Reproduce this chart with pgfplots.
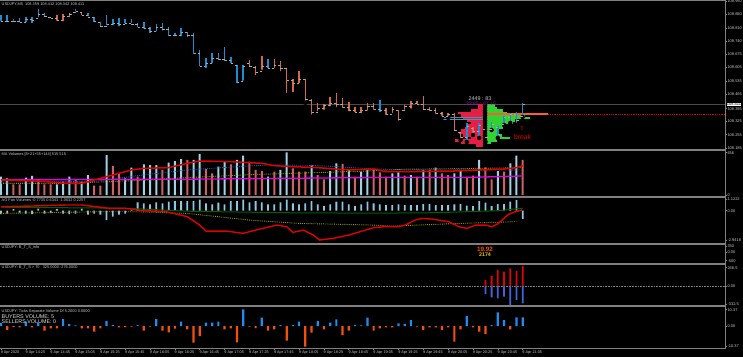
\documentclass[border=0pt]{standalone}
\usepackage{pgfplots}
\usepackage{pgfplotstable}
\pgfplotsset{compat=1.18}
\usepackage{fontspec}
\setmainfont{Liberation Sans}
\newfontfamily\dejavu{DejaVu Sans}
\definecolor{sep}{RGB}{128,128,128}
\definecolor{lbl}{RGB}{200,200,200}
\definecolor{pblue}{RGB}{30,140,210}
\definecolor{porange}{RGB}{215,105,65}
\definecolor{vblue}{RGB}{160,210,228}
\definecolor{vred}{RGB}{205,100,100}
\definecolor{mared}{RGB}{225,0,0}
\definecolor{mamag}{RGB}{230,0,230}
\definecolor{maolive}{RGB}{150,150,0}
\definecolor{madblue}{RGB}{30,90,190}
\definecolor{aobar}{RGB}{140,200,230}
\definecolor{aogreen}{RGB}{0,95,0}
\definecolor{btsred}{RGB}{230,0,0}
\definecolor{btsblue}{RGB}{65,100,220}
\definecolor{tvblue}{RGB}{30,140,240}
\definecolor{tvorange}{RGB}{245,80,10}
\definecolor{prred}{RGB}{230,30,70}
\definecolor{prgreen}{RGB}{50,210,50}
\definecolor{poc}{RGB}{255,90,50}
\definecolor{curline}{RGB}{75,75,75}
\definecolor{tickgray}{RGB}{170,170,170}

\pgfplotstableread{
i lo hi op cl
0 108.836 108.877 108.850 108.845
1 108.834 108.877 108.845 108.842
2 108.837 108.855 108.842 108.846
3 108.829 108.860 108.846 108.840
4 108.830 108.868 108.840 108.856
5 108.825 108.868 108.856 108.848
6 108.855 108.907 108.858 108.880
7 108.860 108.886 108.880 108.872
12 108.886 108.907 108.890 108.898
14 108.860 108.889 108.874 108.866
15 108.830 108.868 108.866 108.845
16 108.808 108.842 108.838 108.818
17 108.813 108.877 108.818 108.830
18 108.813 108.855 108.830 108.835
19 108.808 108.860 108.835 108.828
20 108.825 108.855 108.828 108.832
21 108.825 108.855 108.832 108.830
22 108.803 108.834 108.830 108.815
23 108.796 108.842 108.815 108.808
24 108.773 108.816 108.808 108.790
25 108.782 108.830 108.790 108.812
26 108.785 108.834 108.812 108.800
27 108.756 108.813 108.800 108.772
28 108.756 108.785 108.772 108.770
29 108.756 108.808 108.770 108.785
30 108.751 108.790 108.785 108.770
31 108.664 108.785 108.770 108.680
32 108.600 108.695 108.680 108.610
33 108.591 108.652 108.610 108.625
34 108.617 108.678 108.625 108.650
35 108.634 108.678 108.650 108.645
36 108.626 108.712 108.645 108.640
37 108.617 108.660 108.640 108.625
38 108.513 108.617 108.615 108.525
39 108.525 108.617 108.530 108.610
43 108.591 108.647 108.610 108.600
61 108.362 108.435 108.388 108.380
75 108.217 108.316 108.240 108.300
77 108.238 108.316 108.270 108.305
79 108.279 108.321 108.285 108.310
80 108.238 108.300 108.295 108.255
81 108.305 108.352 108.310 108.345
82 108.316 108.368 108.345 108.360
83 108.305 108.373 108.360 108.330
84 108.347 108.418 108.350 108.411
}\priceB

\pgfplotstableread{
i lo hi op cl
8 108.851 108.868 108.866 108.858
9 108.837 108.877 108.858 108.848
10 108.834 108.882 108.848 108.870
11 108.855 108.886 108.870 108.880
13 108.865 108.894 108.890 108.874
40 108.600 108.643 108.625 108.610
41 108.553 108.612 108.605 108.580
42 108.582 108.664 108.585 108.610
44 108.591 108.647 108.600 108.615
45 108.574 108.638 108.615 108.600
46 108.461 108.600 108.598 108.535
47 108.466 108.543 108.535 108.520
48 108.513 108.586 108.520 108.545
49 108.421 108.543 108.540 108.440
50 108.348 108.439 108.435 108.372
51 108.366 108.421 108.372 108.390
52 108.374 108.413 108.390 108.405
53 108.392 108.449 108.405 108.420
54 108.387 108.470 108.420 108.410
55 108.383 108.447 108.410 108.395
56 108.366 108.426 108.395 108.380
57 108.362 108.400 108.380 108.370
58 108.357 108.397 108.370 108.380
59 108.369 108.418 108.380 108.400
60 108.374 108.418 108.400 108.388
62 108.348 108.392 108.380 108.360
63 108.357 108.397 108.360 108.385
64 108.317 108.383 108.380 108.335
65 108.374 108.409 108.380 108.400
66 108.380 108.430 108.400 108.420
67 108.404 108.430 108.420 108.415
68 108.374 108.455 108.415 108.385
69 108.366 108.397 108.385 108.380
70 108.352 108.394 108.380 108.365
71 108.342 108.373 108.365 108.350
72 108.342 108.368 108.350 108.360
73 108.264 108.368 108.360 108.275
74 108.227 108.269 108.265 108.240
76 108.253 108.295 108.290 108.270
78 108.217 108.290 108.285 108.240
}\priceO

% volume profile rows: price, red length (left), green length (right)
\pgfplotstableread{
c p r g
77.94 108.407 1.2 1.6
77.94 108.394 1.2 1.9
77.94 108.381 2.3 2.9
77.94 108.368 4.4 3.5
77.94 108.355 3.9 6.4
77.94 108.342 3.5 7.2
77.94 108.329 2.9 4.8
77.94 108.316 2.3 4.5
77.94 108.303 2.9 3.2
77.94 108.290 3.3 2.9
77.94 108.277 3.9 2.2
77.94 108.264 4.2 1.9
77.94 108.251 3.5 2.7
77.94 108.238 2.3 4.0
77.94 108.225 4.8 1.9
77.94 108.212 3.9 1.0
77.94 108.199 1.5 0.3
}\profile

\pgfplotstableread{
i v
0 284
1 258
4 269
5 295
9 165
10 207
11 284
13 207
14 310
17 620
20 258
21 424
23 475
24 465
25 465
27 501
28 527
29 558
31 543
32 636
35 439
36 527
38 543
39 610
43 284
45 388
46 661
50 465
53 372
54 491
56 388
58 362
59 388
63 336
64 351
66 310
68 388
70 424
73 336
74 388
77 543
80 372
82 491
83 610
}\volL

\pgfplotstableread{
i v
2 165
3 165
6 233
7 165
8 165
12 243
15 145
16 145
18 450
19 336
22 284
26 388
30 543
33 403
34 336
37 475
40 517
41 388
42 372
44 362
47 413
48 362
49 362
51 310
52 243
55 481
57 284
60 403
61 351
62 284
65 300
67 284
69 388
71 336
72 310
75 284
76 300
78 429
79 243
81 362
84 543
}\volR

\pgfplotstableread{
i v
0 -0.35
1 -0.30
2 0.15
3 -0.20
4 -0.30
5 -0.35
6 0.20
7 -0.30
8 -0.25
9 0.15
10 -0.30
11 -0.35
12 -0.30
13 0.20
14 -0.40
15 -0.30
16 -0.40
17 -0.95
18 -0.60
19 -0.40
20 -0.30
21 0.15
22 0.835
23 0.735
24 0.635
25 0.835
26 0.735
27 0.90
28 0.97
29 0.97
30 0.97
31 0.97
32 1.12
33 0.735
34 0.635
35 0.80
36 0.635
37 0.97
38 0.97
39 1.12
40 0.835
41 0.97
42 0.835
43 0.635
44 0.635
45 0.835
46 1.12
47 0.735
48 0.635
49 0.735
50 0.97
51 0.635
52 0.47
53 0.635
54 0.90
55 0.90
56 0.635
57 0.47
58 0.635
59 0.90
60 0.735
61 0.635
62 0.57
63 0.57
64 0.635
65 0.57
66 0.57
67 0.57
68 0.67
69 0.67
70 0.57
71 0.57
72 0.57
73 0.635
74 0.67
75 0.50
76 0.47
77 0.97
78 0.80
79 0.47
80 0.67
81 0.67
82 0.90
83 1.07
84 -0.83
}\ao

\pgfplotstableread{
i v
0 1.5
4 2.17
6 1.67
10 3.5
11 1.0
12 0.3
17 2.5
18 0.5
22 0.5
25 3.5
29 2.17
33 1.67
34 1.67
35 2.17
39 8.33
42 4.17
45 0.5
47 0.5
48 2.17
51 2.5
53 1.67
54 3.33
57 0.5
58 0.33
59 4.17
64 1.33
65 1.0
66 3.0
75 5.0
79 0.5
80 6.83
81 3.0
83 4.33
84 4.33
}\tvB

\pgfplotstableread{
i v
1 -2.0
2 -0.5
3 -0.67
5 -0.67
7 -2.33
8 -1.17
9 -1.17
13 -1.17
14 -1.17
15 -2.83
16 -1.17
19 -0.67
20 -0.5
21 -0.33
23 -2.33
24 -0.33
26 -2.33
27 -3.17
28 -1.33
30 -1.67
31 -8.33
32 -5.0
36 -1.67
37 -1.17
38 -8.17
40 -0.33
41 -1.0
43 -2.33
44 -1.67
46 -7.33
49 -10.33
50 -3.33
52 -1.67
55 -4.5
56 -2.33
60 -2.33
61 -1.17
62 -0.67
63 -0.67
67 -0.33
68 -2.0
69 -0.67
70 -0.67
71 -2.0
72 -0.67
73 -7.83
74 -1.67
76 -0.67
77 -2.83
78 -4.0
82 -1.67
}\tvO

\pgfplotsset{
  panel/.style={
    scale only axis, width=725bp, xmin=-0.161, xmax=116.58,
    axis y line*=right,
    y axis line style={draw=sep, line width=0.8bp},
    ytick pos=right, tick align=outside, major tick length=2bp,
    tick style={draw=sep, line width=0.6bp},
    yticklabel style={font=\fontsize{4}{4}\selectfont, text=lbl, anchor=west, xshift=-0.5bp, inner sep=0.8bp},
    /pgf/number format/assume math mode=true,
    anchor=north west,
  },
  nox/.style={axis x line=none, xtick=\empty},
}

\begin{document}
\begin{tikzpicture}
\fill[black] (0,0) rectangle (743bp,-357bp);

% ---------- main price panel
\begin{axis}[panel, nox, at={(0bp,-0.5bp)}, height=148.5bp, ymin=108.1804, ymax=108.9526,
  ytick={108.950,108.880,108.810,108.740,108.675,108.605,108.535,108.465,108.390,108.325,108.255,108.185},
  yticklabels={108.950,108.880,108.810,108.740,108.675,108.605,108.535,108.465,108.395,108.325,108.255,108.185}]
\addplot[curline, line width=1.2bp] coordinates {(-1,108.411) (117,108.411)};
\addplot[only marks, mark=none, error bars/.cd, x dir=minus, x explicit, error mark=none,
  error bar style={draw=prred, line width=2.5bp}] table[x=c, y=p, x error=r] {\profile};
\addplot[only marks, mark=none, error bars/.cd, x dir=plus, x explicit, error mark=none,
  error bar style={draw=prgreen, line width=2.5bp}] table[x=c, y=p, x error=g] {\profile};
\addplot[poc, line width=1.6bp] coordinates {(77.94,108.362) (88.1,108.362)};
\addplot[btsred, densely dotted, line width=0.8bp] coordinates {(88.1,108.362) (117,108.362)};
\addplot[gray, line width=0.8bp] coordinates {(70.97,108.344) (77.94,108.344)};
\addplot[cyan, line width=1bp] coordinates {(70.97,108.336) (77.94,108.336)};
\addplot[only marks, mark=none, error bars/.cd, y dir=plus, y explicit, error mark=none,
  error bar style={draw=pblue, line width=1.5bp}] table[x=i, y=lo, y error expr=\thisrow{hi}-\thisrow{lo}] {\priceB};
\addplot[only marks, mark=none, error bars/.cd, y dir=plus, y explicit, error mark=none,
  error bar style={draw=porange, line width=1.5bp}] table[x=i, y=lo, y error expr=\thisrow{hi}-\thisrow{lo}] {\priceO};
\addplot[only marks, mark=-, mark size=1.1bp, mark options={draw=tickgray, line width=0.7bp}] table[x expr=\thisrow{i}-0.18, y=op] {\priceB};
\addplot[only marks, mark=-, mark size=1.1bp, mark options={draw=tickgray, line width=0.7bp}] table[x expr=\thisrow{i}+0.18, y=cl] {\priceB};
\addplot[only marks, mark=-, mark size=1.1bp, mark options={draw=tickgray, line width=0.7bp}] table[x expr=\thisrow{i}-0.18, y=op] {\priceO};
\addplot[only marks, mark=-, mark size=1.1bp, mark options={draw=tickgray, line width=0.7bp}] table[x expr=\thisrow{i}+0.18, y=cl] {\priceO};
\end{axis}

% ---------- MA volumes
\begin{axis}[panel, nox, at={(0bp,-150.5bp)}, height=45.5bp, ymin=-15.5, ymax=689.8,
  ytick={656,0}, yticklabels={656,0}]
\addplot[ybar, bar width=2bp, bar shift=0pt, fill=vblue, draw=none] table[x=i,y=v] {\volL};
\addplot[ybar, bar width=2bp, bar shift=0pt, fill=vred, draw=none] table[x=i,y=v] {\volR};
\addplot[maolive, densely dotted, line width=0.9bp] coordinates {(0,180) (10,180) (21,220) (30,270) (40,315) (50,345) (59,372) (65,400) (75,410) (84,424)};
\addplot[madblue, densely dotted, line width=0.9bp] coordinates {(0,200) (15,210) (22,300) (30,388) (38,440) (43,465) (50,460) (54,440) (59,410) (65,390) (84,388)};
\addplot[mamag, line width=1.3bp] coordinates {(0,235) (30,245) (59,270) (75,272) (84,295)};
\addplot[mared, line width=1.5bp] coordinates {(0,233) (6,215) (10,185) (13,180) (15,233) (17,284) (21,388) (23,413) (27,424) (30,491) (32,527) (37,517) (42,491) (44,455) (47,439) (51,424) (56,388) (60,403) (62,362) (65,362) (73,372) (81,403) (83,424) (84,454)};
\end{axis}

% ---------- AO Fan volumes
\begin{axis}[panel, nox, at={(0bp,-198bp)}, height=45bp, ymin=-3.236, ymax=1.2725,
  ytick={1.1222,0,-2.9418}, yticklabels={1.1222,0.00,-2.9418}]
\addplot[ybar, bar width=1.8bp, bar shift=0pt, fill=aobar, draw=none] table[x=i,y=v] {\ao};
\addplot[maolive, densely dotted, line width=0.9bp] coordinates {(0,-0.27) (16,-0.1) (22,-0.1) (30,-0.27) (40,-0.94) (48,-1.27) (60,-1.44) (63,-1.55) (67,-1.44) (74,-1.27) (83,-1.1)};
\addplot[aogreen, line width=1bp] coordinates {(0,0.35) (20,0.25) (30,-0.05) (45,-0.2) (60,-0.25) (70,-0.2) (80,0.0) (84,0.25)};
\addplot[mared, line width=1.4bp] coordinates {(0,0.40) (5,0.47) (10.5,0.57) (13,0.57) (17.5,0.23) (20,0.23) (23,0) (26.6,-0.1) (30,-0.6) (32,-1.44) (33,-2.04) (36.3,-2.04) (39,-2.27) (41,-1.94) (44.4,-1.44) (46,-1.6) (47,-2.17) (48.7,-1.94) (50.3,-2.44) (51.3,-2.94) (53.5,-2.77) (56,-2.44) (60,-1.7) (61.9,-1.6) (64,-1.6) (65.1,-1.44) (66.7,-0.94) (67.8,-0.77) (69.4,-0.84) (72.1,-1.1) (73.7,-1.6) (75,-1.77) (76.4,-1.44) (78,-1.44) (79.1,-1.6) (80.1,-1.27) (81.7,-0.37) (82.8,-0.1) (83.9,0.07)};
\end{axis}

% ---------- B_T_S info
\begin{axis}[panel, nox, at={(0bp,-244.5bp)}, height=18.5bp, ymin=-631, ymax=435,
  ytick={350,0,-500}, yticklabels={350,0.00,-500}]
\addplot[draw=none] coordinates {(0,0)};
\end{axis}

% ---------- B_T_S > 70
\begin{axis}[panel, nox, at={(0bp,-264.5bp)}, height=41bp, ymin=-309, ymax=351,
  ytick={299,0,-290}, yticklabels={266.5,0.00,-332.5}]
\addplot[sep, densely dotted, line width=0.6bp] coordinates {(-1,0) (117,0)};
\addplot[ybar, bar width=1.8bp, bar shift=0pt, fill=btsred, draw=none] coordinates {(78,101) (79,166) (80,262) (81,235) (82,290) (83,246) (84,325)};
\addplot[ybar, bar width=1.8bp, bar shift=0pt, fill=btsblue, draw=none] coordinates {(78,-124) (79,-177) (80,-193) (81,-167) (82,-301) (83,-221) (84,-276)};
\end{axis}

% ---------- Ticks separate volume
\begin{axis}[panel, at={(0bp,-307bp)}, height=41bp, ymin=-11, ymax=9.5,
  ytick={8.15,0,-10.15}, yticklabels={10.37,0.00,-10.37},
  axis x line*=bottom, x axis line style={draw=sep, line width=0.9bp},
  xtick={0,4,...,84}, xtick pos=bottom,
  xticklabels={9 Apr 2020,9 Apr 14:25,9 Apr 14:45,9 Apr 15:05,9 Apr 15:25,9 Apr 15:45,9 Apr 16:05,9 Apr 16:25,9 Apr 16:45,9 Apr 17:05,9 Apr 17:25,9 Apr 17:45,9 Apr 18:05,9 Apr 18:25,9 Apr 18:45,9 Apr 19:05,9 Apr 19:25,9 Apr 19:45,9 Apr 20:05,9 Apr 20:25,9 Apr 20:45,9 Apr 21:05},
  xticklabel style={font=\fontsize{3.8}{4}\selectfont, text=lbl, anchor=north west, xshift=-1bp, inner sep=0.6bp}]
\addplot[ybar, bar width=2.2bp, bar shift=0pt, fill=tvblue, draw=none] table[x=i,y=v] {\tvB};
\addplot[ybar, bar width=2.2bp, bar shift=0pt, fill=tvorange, draw=none] table[x=i,y=v] {\tvO};
\end{axis}

% separators and frame
\draw[sep, line width=1.4bp] (0,-0.6bp) -- (725bp,-0.6bp);
\draw[sep, line width=1.8bp] (0,-149.8bp) -- (725bp,-149.8bp);
\draw[sep, line width=1.8bp] (0,-197.1bp) -- (725bp,-197.1bp);
\draw[sep, line width=1.8bp] (0,-243.8bp) -- (725bp,-243.8bp);
\draw[sep, line width=1.8bp] (0,-263.8bp) -- (725bp,-263.8bp);
\draw[sep, line width=1.8bp] (0,-306.2bp) -- (725bp,-306.2bp);
\draw[sep, line width=0.8bp] (725bp,0) -- (725bp,-348.5bp);

% texts
\node[anchor=west, text=lbl, font=\fontsize{3.9}{4}\selectfont, inner sep=0] at (1.5bp,-4.5bp) {USDJPY,M5\ \ 108.359 108.412 108.342 108.411};
\node[text=lbl, font=\fontsize{5.4}{6}\selectfont, inner sep=0] at (480bp,-99bp) {2449 : 83};
\node[text={rgb,255:red,170;green,0;blue,200}, font=\fontsize{5}{6}\selectfont, inner sep=0] at (481bp,-103.6bp) {32.85 : 67.15};
\node[text=btsred, font=\dejavu\fontsize{6}{6}\selectfont, inner sep=0] at (522bp,-128.5bp) {⇧};
\node[text=btsred, font=\fontsize{6.8}{7}\selectfont, inner sep=0] at (522.5bp,-137bp) {break};
\node[fill=white, text=black, font=\fontsize{4}{4}\selectfont, inner sep=0.4bp, anchor=west] at (726.3bp,-104.6bp) {108.411};
\node[anchor=west, text=lbl, font=\fontsize{3.9}{4}\selectfont, inner sep=0] at (1.5bp,-154bp) {MA Volumes [8+21+55+144] 515 515};
\node[anchor=west, text=lbl, font=\fontsize{3.9}{4}\selectfont, inner sep=0] at (1.5bp,-200.5bp) {AO Fan Volumes -0.7735 0.6343 -1.0632 0.2257};
\node[anchor=west, text=lbl, font=\fontsize{3.9}{4}\selectfont, inner sep=0] at (1.5bp,-247.4bp) {USDJPY: B\_T\_S\_info};
\node[text={rgb,255:red,255;green,80;blue,0}, font=\bfseries\fontsize{6.3}{7}\selectfont, inner sep=0] at (485bp,-249.3bp) {19.92};
\node[text={rgb,255:red,235;green,200;blue,0}, font=\bfseries\fontsize{5.3}{6}\selectfont, inner sep=0] at (485bp,-254.6bp) {2174};
\node[anchor=west, text=lbl, font=\fontsize{3.9}{4}\selectfont, inner sep=0] at (1.5bp,-267.8bp) {USDJPY: B\_T\_S > 70\ \ \ 325.0000 -276.0000};
\node[anchor=west, text=lbl, font=\fontsize{3.9}{4}\selectfont, inner sep=0] at (1.5bp,-311bp) {USDJPY: Ticks Separate Volume Df 5.2000 0.0000};
\node[anchor=west, text={rgb,255:red,225;green,225;blue,225}, font=\fontsize{5.4}{6}\selectfont, inner sep=0] at (1.5bp,-316.7bp) {BUYERS VOLUME: 5};
\node[anchor=west, text={rgb,255:red,225;green,225;blue,225}, font=\fontsize{5.4}{6}\selectfont, inner sep=0] at (1.5bp,-321.8bp) {SELLERS VOLUME: 0};

\pgfresetboundingbox
\useasboundingbox (0,0) rectangle (743bp,-357bp);
\end{tikzpicture}
\end{document}
